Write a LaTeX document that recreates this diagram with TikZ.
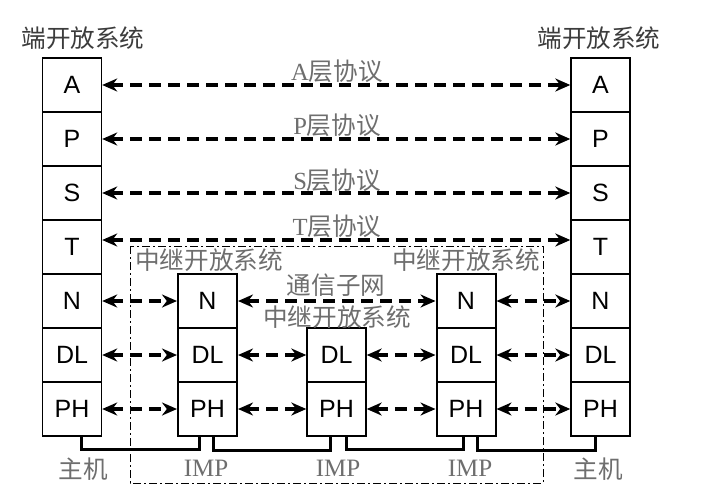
\documentclass[tikz,border=0pt]{standalone}
\usepackage{fontspec}
\setmainfont{Liberation Serif}
\newfontfamily\lsans{Liberation Sans}
\newfontfamily\cjk{Noto Sans CJK SC}
\usetikzlibrary{arrows.meta, calc}
\definecolor{labelgray}{RGB}{110,110,110}
\definecolor{titlegray}{RGB}{60,60,60}

\begin{document}
\begin{tikzpicture}[
    x=0.5pt, y=-0.5pt,
    layer/.style={rectangle, draw=black, line width=0.7pt, fill=white, minimum width=29.5pt, minimum height=27pt, inner sep=0pt, font=\lsans\fontsize{12.5}{14}\selectfont},
    relay/.style={layer, line width=1pt},
    proto/.style={{Stealth[length=7.5pt,width=6.5pt]}-{Stealth[length=7.5pt,width=6.5pt]}, line width=1.6pt, dash pattern=on 6pt off 3.5pt},
    bus/.style={line width=1.5pt},
    subnet/.style={line width=0.5pt, dash pattern=on 4pt off 1.5pt on 1pt off 1.5pt},
    plabel/.style={font=\cjk\fontsize{12.3}{14}\selectfont, color=labelgray, inner sep=0pt},
    title/.style={font=\cjk\fontsize{12.3}{14}\selectfont, color=titlegray, inner sep=0pt},
    implabel/.style={font=\fontsize{12.5}{14}\selectfont, color=labelgray, inner sep=0pt}
]
\useasboundingbox (0,0) rectangle (715,503);

% Sub-network frame
\draw[subnet] (130,246) rectangle (543,483);

% Left end system
\node[title] (endL) at (83,38) {端开放系统};
\node[layer] (hlA) at (72,85) {A};
\node[layer] (hlP) at (72,139) {P};
\node[layer] (hlS) at (72,193) {S};
\node[layer] (hlT) at (72,247) {T};
\node[layer] (hlN) at (72,301) {N};
\node[layer] (hlDL) at (72,355) {DL};
\node[layer] (hlPH) at (72,409) {PH};
\node[title, color=labelgray] (hostL) at (83,469) {主机};

% Right end system
\node[title] (endR) at (599,38) {端开放系统};
\node[layer] (hrA) at (600.5,85) {A};
\node[layer] (hrP) at (600.5,139) {P};
\node[layer] (hrS) at (600.5,193) {S};
\node[layer] (hrT) at (600.5,247) {T};
\node[layer] (hrN) at (600.5,301) {N};
\node[layer] (hrDL) at (600.5,355) {DL};
\node[layer] (hrPH) at (600.5,409) {PH};
\node[title, color=labelgray] (hostR) at (598,469) {主机};

% Relay systems (IMP)
\node[relay] (ilN) at (207.5,301) {N};
\node[relay] (ilDL) at (207.5,355) {DL};
\node[relay] (ilPH) at (207.5,409) {PH};
\node[layer] (imDL) at (336.5,355) {DL};
\node[layer] (imPH) at (336.5,409) {PH};
\node[relay] (irN) at (466,301) {N};
\node[relay] (irDL) at (466,355) {DL};
\node[relay] (irPH) at (466,409) {PH};

% Relay labels
\node[plabel] (relL) at (209,260) {中继开放系统};
\node[plabel] (relR) at (466,260) {中继开放系统};
\node[plabel] (relM) at (337,317) {中继开放系统};
\node[plabel] (net) at (336,285) {通信子网};
\node[implabel] (impL) at (206,468) {IMP};
\node[implabel] (impM) at (338,468) {IMP};
\node[implabel] (impR) at (470,468) {IMP};

% Peer protocols
\draw[proto] (hlA) -- (hrA);
\draw[proto] (hlP) -- (hrP);
\draw[proto] (hlS) -- (hrS);
\draw[proto] ([yshift=3.5pt]hlT.east) -- ([yshift=3.5pt]hrT.west);
\node[plabel] (protA) at (337,71) {{\rmfamily A}层协议};
\node[plabel] (protP) at (337,125) {{\rmfamily P}层协议};
\node[plabel] (protS) at (337,180) {{\rmfamily S}层协议};
\node[plabel] (protT) at (337,226) {{\rmfamily T}层协议};

% Hop-by-hop protocols
\draw[proto] (hlN) -- (ilN);
\draw[proto] (ilN) -- (irN);
\draw[proto] (irN) -- (hrN);
\draw[proto] (hlDL) -- (ilDL);
\draw[proto] (ilDL) -- (imDL);
\draw[proto] (imDL) -- (irDL);
\draw[proto] (irDL) -- (hrDL);
\draw[proto] (hlPH) -- (ilPH);
\draw[proto] (ilPH) -- (imPH);
\draw[proto] (imPH) -- (irPH);
\draw[proto] (irPH) -- (hrPH);

% Physical links
\draw[bus] ($(hlPH.south)+(9,0)$) -- ++(0,13) -| ($(ilPH.south)+(-8.5,0)$);
\draw[bus] ($(ilPH.south)+(5.5,0)$) -- ++(0,13) -| ($(imPH.south)+(-6.5,0)$);
\draw[bus] ($(imPH.south)+(9.5,0)$) -- ++(0,13) -| ($(irPH.south)+(-3,0)$);
\draw[bus] ($(irPH.south)+(11,0)$) -- ++(0,13) -| ($(hrPH.south)+(-5.5,0)$);

\end{tikzpicture}
\end{document}
